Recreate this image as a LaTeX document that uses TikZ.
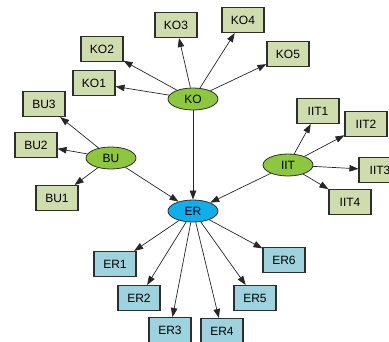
\documentclass[tikz,border=0pt]{standalone}
\usepackage{fontspec}
\setmainfont{Liberation Sans}
\usetikzlibrary{arrows.meta,shapes.geometric}
\definecolor{hubgreen}{HTML}{8DC63F}
\definecolor{leafgreen}{HTML}{CFDDAE}
\definecolor{hubblue}{HTML}{12AEEA}
\definecolor{leafblue}{HTML}{9DD2DE}
\definecolor{edgegray}{HTML}{2E2E2E}
\tikzset{
  hub/.style={ellipse, draw=edgegray, line width=0.8pt, minimum width=50pt, minimum height=22pt, inner sep=0pt, font=\fontsize{12}{12}\selectfont},
  hubg/.style={hub, fill=hubgreen},
  hubb/.style={hub, fill=hubblue},
  leaf/.style={rectangle, draw=edgegray, line width=1.1pt, minimum width=42pt, minimum height=25pt, inner sep=0pt, font=\fontsize{12}{12}\selectfont},
  leafg/.style={leaf, fill=leafgreen},
  leafb/.style={leaf, fill=leafblue},
  conn/.style={draw=black!85, line width=0.7pt, -{Triangle[length=9pt,width=6.5pt]}}
}
\begin{document}
\begin{tikzpicture}[x=1pt,y=-1pt]
\useasboundingbox (0,0) rectangle (389,341);
\clip (0,0) rectangle (389,341);
\node[hubg] (KO) at (193,99) {KO};
\node[hubg] (BU) at (111,158) {BU};
\node[hubg] (IIT) at (288,165) {IIT};
\node[hubb] (ER) at (193,211) {ER};
\node[leafg] (KO1) at (94,83) {KO1};
\node[leafg] (KO2) at (102,49) {KO2};
\node[leafg] (KO3) at (176,25) {KO3};
\node[leafg] (KO4) at (243,20) {KO4};
\node[leafg] (KO5) at (288,54) {KO5};
\node[leafg] (BU1) at (57,198) {BU1};
\node[leafg] (BU2) at (36,145) {BU2};
\node[leafg] (BU3) at (44,104) {BU3};
\node[leafg] (IIT1) at (318,111) {IIT1};
\node[leafg] (IIT2) at (366,124) {IIT2};
\node[leafg] (IIT3) at (380,170) {IIT3};
\node[leafg] (IIT4) at (350,202) {IIT4};
\node[leafb] (ER1) at (115,264) {ER1};
\node[leafb] (ER2) at (139,298) {ER2};
\node[leafb] (ER3) at (170,330) {ER3};
\node[leafb] (ER4) at (222,331) {ER4};
\node[leafb] (ER5) at (255,298) {ER5};
\node[leafb] (ER6) at (284,260) {ER6};
\foreach \t in {KO1,KO2,KO3,KO4,KO5,ER} \draw[conn] (KO) -- (\t);
\foreach \t in {BU1,BU2,BU3,ER} \draw[conn] (BU) -- (\t);
\foreach \t in {IIT1,IIT2,IIT3,IIT4,ER} \draw[conn] (IIT) -- (\t);
\foreach \t in {ER1,ER2,ER3,ER4,ER5,ER6} \draw[conn] (ER) -- (\t);
\end{tikzpicture}
\end{document}
